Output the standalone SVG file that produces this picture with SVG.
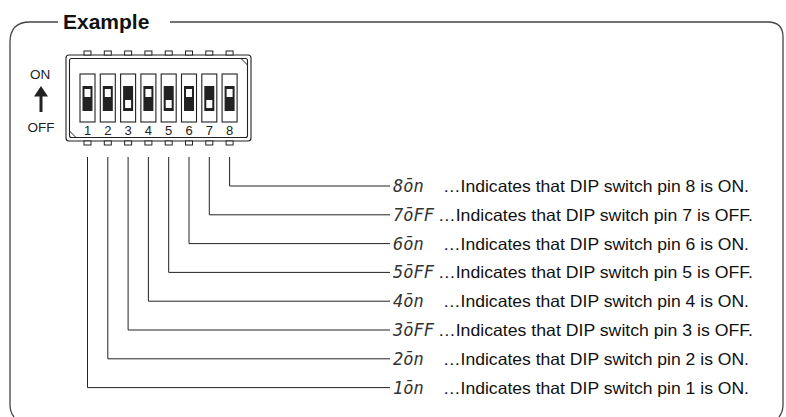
<svg xmlns="http://www.w3.org/2000/svg" width="786" height="417" viewBox="0 0 786 417">
<style>
.frame{fill:none;stroke:#444;stroke-width:1.3}
.sw{fill:#fff;stroke:#222;stroke-width:1.1}
.pin{fill:#fff;stroke:#222;stroke-width:1}
.blk{fill:#222}
.knob{fill:#fff}
.num{font-family:"Liberation Sans",Arial,sans-serif;font-size:13px;fill:#222;text-anchor:middle}
.lbl{font-family:"Liberation Sans",Arial,sans-serif;font-size:13.5px;fill:#222;text-anchor:middle}
.con{fill:none;stroke:#222;stroke-width:1}
.seg{font-family:"DejaVu Sans Mono",monospace;font-style:oblique;font-size:17px;fill:#333}
.desc{font-family:"Liberation Sans",Arial,sans-serif;font-size:16.5px;fill:#111}
</style>
<rect width="786" height="417" fill="#fff"/>
<g id="frame">
<path class="frame" d="M14 417 Q10 412 10 405 L10 42 Q10 22 30 22 L58 22 M170 22 L768 22 Q783 22 783 37 L783 405 Q783 412 779 417"/>
<text x="63" y="29" font-family="Liberation Sans,Arial,sans-serif" font-weight="bold" font-size="21" fill="#111">Example</text>
</g>
<g id="onoff">
<text class="lbl" x="40" y="79">ON</text>
<polygon points="41,86 48,96.5 34,96.5" fill="#222"/>
<rect x="39.5" y="96" width="3" height="16" fill="#222"/>
<text class="lbl" x="41" y="132">OFF</text>
</g>
<g id="dipswitch">
<rect class="sw" x="66" y="55" width="185" height="86" rx="3"/>
<rect class="sw" x="69.5" y="58.5" width="178" height="79" rx="2"/>
<line class="con" x1="241" y1="58.5" x2="247.5" y2="65"/>
<line class="con" x1="69.5" y1="131" x2="76" y2="137.5"/>
<g id="pins">
<rect class="pin" x="84" y="51" width="7" height="4"/><rect class="pin" x="84" y="141" width="7" height="4"/>
<rect class="pin" x="104.3" y="51" width="7" height="4"/><rect class="pin" x="104.3" y="141" width="7" height="4"/>
<rect class="pin" x="124.6" y="51" width="7" height="4"/><rect class="pin" x="124.6" y="141" width="7" height="4"/>
<rect class="pin" x="144.9" y="51" width="7" height="4"/><rect class="pin" x="144.9" y="141" width="7" height="4"/>
<rect class="pin" x="165.2" y="51" width="7" height="4"/><rect class="pin" x="165.2" y="141" width="7" height="4"/>
<rect class="pin" x="185.5" y="51" width="7" height="4"/><rect class="pin" x="185.5" y="141" width="7" height="4"/>
<rect class="pin" x="205.8" y="51" width="7" height="4"/><rect class="pin" x="205.8" y="141" width="7" height="4"/>
<rect class="pin" x="226.1" y="51" width="7" height="4"/><rect class="pin" x="226.1" y="141" width="7" height="4"/>
</g>
<g id="sw1"><rect class="sw" x="80" y="74" width="15" height="48"/><rect class="blk" x="82.5" y="86" width="10" height="25"/><rect class="knob" x="84.5" y="89" width="6" height="8"/><text class="num" x="87.5" y="134.5">1</text></g>
<g id="sw2"><rect class="sw" x="100.3" y="74" width="15" height="48"/><rect class="blk" x="102.8" y="86" width="10" height="25"/><rect class="knob" x="104.8" y="89" width="6" height="8"/><text class="num" x="107.8" y="134.5">2</text></g>
<g id="sw3"><rect class="sw" x="120.6" y="74" width="15" height="48"/><rect class="blk" x="123.1" y="86" width="10" height="25"/><rect class="knob" x="125.1" y="100" width="6" height="8"/><text class="num" x="128.1" y="134.5">3</text></g>
<g id="sw4"><rect class="sw" x="140.9" y="74" width="15" height="48"/><rect class="blk" x="143.4" y="86" width="10" height="25"/><rect class="knob" x="145.4" y="89" width="6" height="8"/><text class="num" x="148.4" y="134.5">4</text></g>
<g id="sw5"><rect class="sw" x="161.2" y="74" width="15" height="48"/><rect class="blk" x="163.7" y="86" width="10" height="25"/><rect class="knob" x="165.7" y="100" width="6" height="8"/><text class="num" x="168.7" y="134.5">5</text></g>
<g id="sw6"><rect class="sw" x="181.5" y="74" width="15" height="48"/><rect class="blk" x="184" y="86" width="10" height="25"/><rect class="knob" x="186" y="89" width="6" height="8"/><text class="num" x="189" y="134.5">6</text></g>
<g id="sw7"><rect class="sw" x="201.8" y="74" width="15" height="48"/><rect class="blk" x="204.3" y="86" width="10" height="25"/><rect class="knob" x="206.3" y="100" width="6" height="8"/><text class="num" x="209.3" y="134.5">7</text></g>
<g id="sw8"><rect class="sw" x="222.1" y="74" width="15" height="48"/><rect class="blk" x="224.6" y="86" width="10" height="25"/><rect class="knob" x="226.6" y="89" width="6" height="8"/><text class="num" x="229.6" y="134.5">8</text></g>
</g>
<g id="connectors">
<polyline class="con" points="229.6,157 229.6,186 390,186"/>
<polyline class="con" points="209.3,157 209.3,214.8 390,214.8"/>
<polyline class="con" points="189,157 189,243.6 390,243.6"/>
<polyline class="con" points="168.7,157 168.7,272.4 390,272.4"/>
<polyline class="con" points="148.4,157 148.4,301.2 390,301.2"/>
<polyline class="con" points="128.1,157 128.1,330 390,330"/>
<polyline class="con" points="107.8,157 107.8,358.8 390,358.8"/>
<polyline class="con" points="87.5,157 87.5,387.6 390,387.6"/>
</g>
<g id="row8"><text class="seg" x="393" y="192">8ōn</text><text class="desc" x="443" y="192" textLength="306" lengthAdjust="spacingAndGlyphs">…Indicates that DIP switch pin 8 is ON.</text></g>
<g id="row7"><text class="seg" x="393" y="220.8">7ōFF</text><text class="desc" x="438" y="220.8" textLength="315" lengthAdjust="spacingAndGlyphs">…Indicates that DIP switch pin 7 is OFF.</text></g>
<g id="row6"><text class="seg" x="393" y="249.6">6ōn</text><text class="desc" x="443" y="249.6" textLength="306" lengthAdjust="spacingAndGlyphs">…Indicates that DIP switch pin 6 is ON.</text></g>
<g id="row5"><text class="seg" x="393" y="278.4">5ōFF</text><text class="desc" x="438" y="278.4" textLength="315" lengthAdjust="spacingAndGlyphs">…Indicates that DIP switch pin 5 is OFF.</text></g>
<g id="row4"><text class="seg" x="393" y="307.2">4ōn</text><text class="desc" x="443" y="307.2" textLength="306" lengthAdjust="spacingAndGlyphs">…Indicates that DIP switch pin 4 is ON.</text></g>
<g id="row3"><text class="seg" x="393" y="336">3ōFF</text><text class="desc" x="438" y="336" textLength="315" lengthAdjust="spacingAndGlyphs">…Indicates that DIP switch pin 3 is OFF.</text></g>
<g id="row2"><text class="seg" x="393" y="364.8">2ōn</text><text class="desc" x="443" y="364.8" textLength="306" lengthAdjust="spacingAndGlyphs">…Indicates that DIP switch pin 2 is ON.</text></g>
<g id="row1"><text class="seg" x="393" y="393.6">1ōn</text><text class="desc" x="443" y="393.6" textLength="306" lengthAdjust="spacingAndGlyphs">…Indicates that DIP switch pin 1 is ON.</text></g>
</svg>
